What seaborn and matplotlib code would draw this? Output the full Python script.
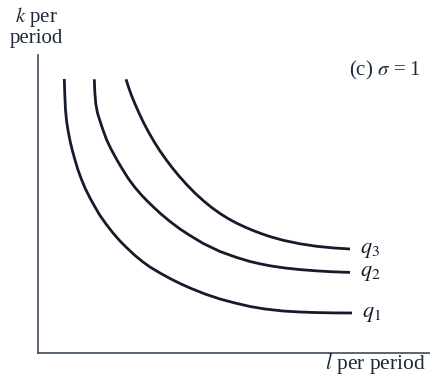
import matplotlib
matplotlib.use("Agg")
import matplotlib.pyplot as plt
import seaborn as sns
import pandas as pd

# Isoquants q1 < q2 < q3 (sigma = 1): capital k against labour l, arbitrary units
q1_l = [26.3, 26.8, 27.5, 28.7, 30.3, 32.3, 34.5, 37, 40, 43.7, 47.5, 52, 57, 62, 68, 75,
        82, 89, 97, 105, 112, 122, 132, 142, 152, 167, 182, 197, 212, 227, 245, 262,
        279, 297, 314]
q1_k = [274, 258, 243, 231, 221, 211, 202, 193, 183, 173, 164, 155, 146, 137.5, 129, 120,
        112, 105, 97.5, 91, 86, 80, 74.5, 69.5, 65, 59, 54, 50, 46.5, 44, 42, 41,
        40.4, 40.1, 40]

q2_l = [56.3, 56.8, 57.8, 59.5, 62, 65, 68.7, 73, 78.7, 84, 90.3, 97, 103.7, 109.5, 115.3,
        123, 132, 142, 152, 165.3, 182, 198.7, 212, 222, 232, 247, 262, 279, 295, 312]
q2_k = [273.7, 261, 249, 240, 232, 223, 213, 204, 193.5, 184.5, 174.5, 165.5, 157.7, 151.7,
        146.1, 139, 131.5, 124, 117.5, 109.5, 101.5, 95.5, 91.5, 89.2, 87.2, 85, 83.4,
        82.1, 81.2, 80.6]

q3_l = [88, 90.5, 93.5, 97, 101, 105.5, 110.5, 116, 122, 128, 134, 141, 148.7, 157, 165.3,
        173.5, 182, 190, 198.7, 207, 215.3, 223.5, 232, 245.3, 262, 278.7, 295, 312]
q3_k = [273.7, 266, 257.5, 249, 240, 230.5, 221, 211.5, 202, 193.5, 185.5, 177, 168.4,
        159.9, 152.3, 145.6, 139.5, 134.5, 129.8, 125.9, 122.4, 119.3, 116.4, 112.7, 109.2,
        106.7, 105.1, 104]

curve_names = ["q1", "q2", "q3"]
curve_labels = [r"$q_1$", r"$q_2$", r"$q_3$"]

frames = []
for name, ls, ks in zip(curve_names, [q1_l, q2_l, q3_l], [q1_k, q2_k, q3_k]):
    frames.append(pd.DataFrame({"l": ls, "k": ks, "curve": name}))
df = pd.concat(frames, ignore_index=True)

sns.set_theme(style="white")
plt.rcParams["font.family"] = ["Liberation Serif", "DejaVu Serif"]
plt.rcParams["mathtext.fontset"] = "stix"

ink = "#141c2c"
axis_col = "#3b4a5c"
text_col = "#1e2a3a"

fig = plt.figure(figsize=(4.30, 3.75), dpi=100)
ax = fig.add_axes([38 / 430, 22 / 375, 392 / 430, 298 / 375])

sns.lineplot(data=df, x="l", y="k", hue="curve", sort=False, estimator=None,
             palette=[ink, ink, ink], linewidth=2.0, legend=False, ax=ax,
             solid_joinstyle="round", solid_capstyle="butt")

ax.set_xlim(0, 392)
ax.set_ylim(0, 298)
ax.set_xticks([])
ax.set_yticks([])
ax.set_xlabel("")
ax.set_ylabel("")
for side in ["top", "right"]:
    ax.spines[side].set_visible(False)
for side in ["left", "bottom"]:
    ax.spines[side].set_color(axis_col)
    ax.spines[side].set_linewidth(1.2)

# curve labels at the right-hand ends
for ls, ks, lab in zip([q1_l, q2_l, q3_l], [q1_k, q2_k, q3_k], curve_labels):
    ax.text(ls[-1] + 10, ks[-1] - 1, lab, fontsize=16, color=ink,
            ha="left", va="center")

fig.text(36 / 430, 1 - 17 / 375, r"$k$ per", fontsize=15, color=text_col,
         ha="center", va="center")
fig.text(36 / 430, 1 - 38 / 375, "period", fontsize=15, color=text_col,
         ha="center", va="center")
fig.text(385 / 430, 1 - 70 / 375, r"(c) $\sigma$ = 1", fontsize=15, color=text_col,
         ha="center", va="center")
fig.text(375 / 430, 1 - 364 / 375, r"$l$ per period", fontsize=15.5, color=text_col,
         ha="center", va="center")

fig.savefig("out.png", dpi=100, facecolor="white")
